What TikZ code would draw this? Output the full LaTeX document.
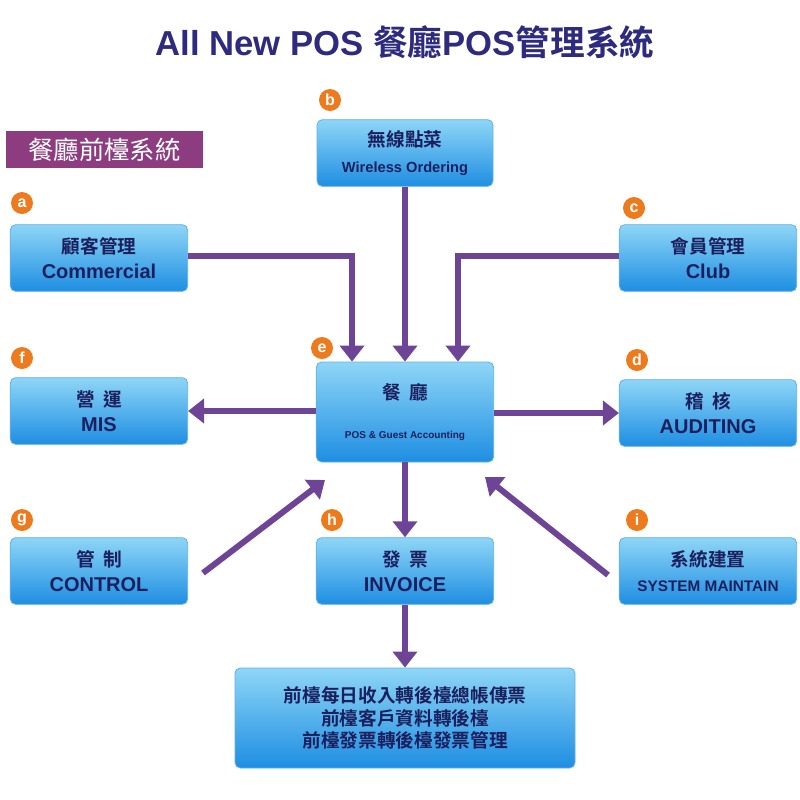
\documentclass[tikz,border=0pt]{standalone}
\usepackage{fontspec}
\setmainfont{Liberation Sans}
\newfontfamily\cjk{Noto Sans CJK TC}[BoldFont={* Bold}]
\usetikzlibrary{arrows.meta}
\definecolor{navy}{HTML}{1C1F5E}
\definecolor{pur}{HTML}{6E4596}
\definecolor{lab}{HTML}{8E3C80}
\definecolor{org}{HTML}{EE7A1E}
\definecolor{btop}{HTML}{8ED6F6}
\definecolor{bbot}{HTML}{1E8EE2}
\begin{document}
\begin{tikzpicture}[x=0.75pt,y=-0.75pt,
 box/.style={rounded corners=4pt,top color=btop,bottom color=bbot,draw=bbot!70!white,line width=0.6pt,inner sep=0pt,font=\bfseries\fontsize{14}{19}\selectfont,text=navy,align=center},
 tag/.style={circle,fill=org,text=white,inner sep=0pt,minimum size=16.5pt,font=\bfseries\large},
 arr/.style={draw=pur,line width=4.5pt,-{Triangle[length=12pt,width=18pt]}}]
\useasboundingbox (0,0) rectangle (800,800);
\node[font=\bfseries\fontsize{26}{28}\selectfont,text={rgb,255:red,46;green,42;blue,126}] (title) at (405,42) {All New POS {\cjk 餐廳}POS{\cjk 管理系統}};
\node[fill=lab,text=white,minimum width=148pt,minimum height=28pt,inner sep=0pt,font=\cjk\fontsize{19}{20}\selectfont] (lbl) at (104.5,149.5) {餐廳前檯系統};
\node[box,minimum width=132pt,minimum height=50pt] (b) at (405,153) {{\cjk 無線點菜}\\{\fontsize{11}{12}\selectfont Wireless Ordering}};
\node[box,minimum width=133pt,minimum height=50pt] (a) at (99,258) {{\cjk 顧客管理}\\{\fontsize{15}{17}\selectfont Commercial}};
\node[box,minimum width=133pt,minimum height=50pt] (c) at (708,258) {{\cjk 會員管理}\\{\fontsize{15}{17}\selectfont Club}};
\node[box,minimum width=133pt,minimum height=75pt] (e) at (405,412) {{\cjk 餐\ \ 廳}\\[10pt]{\fontsize{7.5}{9}\selectfont POS \& Guest Accounting}};
\node[box,minimum width=133pt,minimum height=50pt] (f) at (99,411) {{\cjk 營\ \ 運}\\{\fontsize{15}{17}\selectfont MIS}};
\node[box,minimum width=133pt,minimum height=50pt] (d) at (708,413) {{\cjk 稽\ \ 核}\\{\fontsize{15}{17}\selectfont AUDITING}};
\node[box,minimum width=133pt,minimum height=50pt] (g) at (99,571) {{\cjk 管\ \ 制}\\{\fontsize{15}{17}\selectfont CONTROL}};
\node[box,minimum width=133pt,minimum height=50pt] (h) at (405,571) {{\cjk 發\ \ 票}\\{\fontsize{15}{17}\selectfont INVOICE}};
\node[box,minimum width=133pt,minimum height=50pt] (i) at (708,571) {{\cjk 系統建置}\\{\fontsize{11.5}{13}\selectfont SYSTEM MAINTAIN}};
\node[box,minimum width=255pt,minimum height=75pt,font=\cjk\bfseries\fontsize{14}{17}\selectfont] (k) at (405,718) {前檯每日收入轉後檯總帳傳票\\前檯客戶資料轉後檯\\前檯發票轉後檯發票管理};
\node[tag] (tb) at (330,100) {b};
\node[tag] (ta) at (22,203) {a};
\node[tag] (tc) at (634,208) {c};
\node[tag] (te) at (322,348) {e};
\node[tag] (tf) at (22,358) {f};
\node[tag] (td) at (637,360) {d};
\node[tag] (tg) at (22,520) {g};
\node[tag] (th) at (332,520) {h};
\node[tag] (ti) at (637,520) {i};
\coordinate (ak) at (352,256);
\coordinate (ck) at (458,256);
\draw[arr] (a.east |- ak) -- (ak) -- (ak |- e.north);
\draw[arr] (b) -- (b |- e.north);
\draw[arr] (c.west |- ck) -- (ck) -- (ck |- e.north);
\draw[arr] (e.west |- f) -- (f.east);
\draw[arr] (e.east |- d) -- (d.west);
\draw[arr] (203,573) -- (325,480);
\draw[arr] (e) -- (h.north);
\draw[arr] (608,575) -- (485,477);
\draw[arr] (h) -- (k.north);
\end{tikzpicture}
\end{document}
